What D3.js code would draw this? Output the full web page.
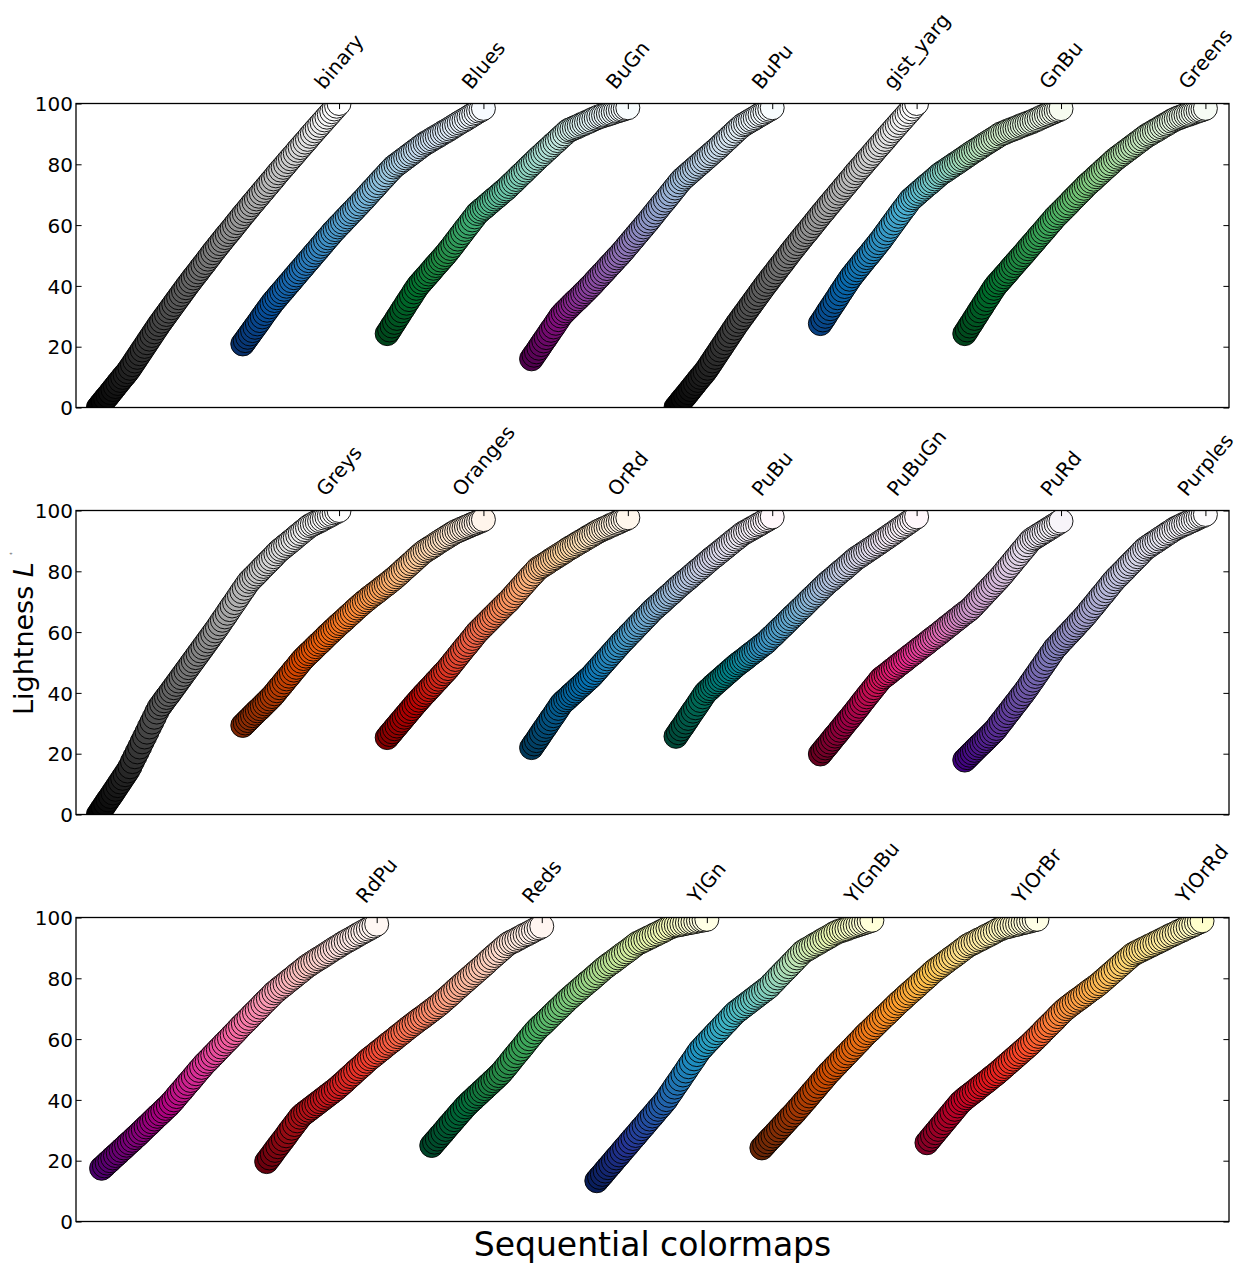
<!DOCTYPE html>
<html><head><meta charset="utf-8">
<script src="https://cdn.jsdelivr.net/npm/d3@7"></script>
<style>body{margin:0;background:#fff} text{font-family:"DejaVu Sans",sans-serif;fill:#000}</style>
</head><body><svg id="c" width="1238" height="1266"></svg>
<script>
// ---- data ----
const row1 = ["binary","Blues","BuGn","BuPu","gist_yarg","GnBu","Greens"];
const row2 = ["Greys","Oranges","OrRd","PuBu","PuBuGn","PuRd","Purples"];
const row3 = ["RdPu","Reds","YlGn","YlGnBu","YlOrBr","YlOrRd"];
const yTicks = [0,20,40,60,80,100];
const xLabel = "Sequential colormaps";

// colormap anchor colours (low -> high, matplotlib order)
const C_binary = ["#ffffff","#000000"];
const C_gist_yarg = ["#ffffff","#000000"];
const C_Blues = ["#f7fbff","#deebf7","#c6dbef","#9ecae1","#6baed6","#4292c6","#2171b5","#08519c","#08306b"];
const C_BuGn = ["#f7fcfd","#e5f5f9","#ccece6","#99d8c9","#66c2a4","#41ae76","#238b45","#006d2c","#00441b"];
const C_BuPu = ["#f7fcfd","#e0ecf4","#bfd3e6","#9ebcda","#8c96c6","#8c6bb1","#88419d","#810f7c","#4d004b"];
const C_GnBu = ["#f7fcf0","#e0f3db","#ccebc5","#a8ddb5","#7bccc4","#4eb3d3","#2b8cbe","#0868ac","#084081"];
const C_Greens = ["#f7fcf5","#e5f5e0","#c7e9c0","#a1d99b","#74c476","#41ab5d","#238b45","#006d2c","#00441b"];
const C_Greys = ["#ffffff","#f0f0f0","#d9d9d9","#bdbdbd","#969696","#737373","#525252","#252525","#000000"];
const C_Oranges = ["#fff5eb","#fee6ce","#fdd0a2","#fdae6b","#fd8d3c","#f16913","#d94801","#a63603","#7f2704"];
const C_OrRd = ["#fff7ec","#fee8c8","#fdd49e","#fdbb84","#fc8d59","#ef6548","#d7301f","#b30000","#7f0000"];
const C_PuBu = ["#fff7fb","#ece7f2","#d0d1e6","#a6bddb","#74a9cf","#3690c0","#0570b0","#045a8d","#023858"];
const C_PuBuGn = ["#fff7fb","#ece2f0","#d0d1e6","#a6bddb","#67a9cf","#3690c0","#02818a","#016c59","#014636"];
const C_PuRd = ["#f7f4f9","#e7e1ef","#d4b9da","#c994c7","#df65b0","#e7298a","#ce1256","#980043","#67001f"];
const C_Purples = ["#fcfbfd","#efedf5","#dadaeb","#bcbddc","#9e9ac8","#807dba","#6a51a3","#54278f","#3f007d"];
const C_RdPu = ["#fff7f3","#fde0dd","#fcc5c0","#fa9fb5","#f768a1","#dd3497","#ae017e","#7a0177","#49006a"];
const C_Reds = ["#fff5f0","#fee0d2","#fcbba1","#fc9272","#fb6a4a","#ef3b2c","#cb181d","#a50f15","#67000d"];
const C_YlGn = ["#ffffe5","#f7fcb9","#d9f0a3","#addd8e","#78c679","#41ab5d","#238443","#006837","#004529"];
const C_YlGnBu = ["#ffffd9","#edf8b1","#c7e9b4","#7fcdbb","#41b6c4","#1d91c0","#225ea8","#253494","#081d58"];
const C_YlOrBr = ["#ffffe5","#fff7bc","#fee391","#fec44f","#fe9929","#ec7014","#cc4c02","#993404","#662506"];
const C_YlOrRd = ["#ffffcc","#ffeda0","#fed976","#feb24c","#fd8d3c","#fc4e2a","#e31a1c","#bd0026","#800026"];

// lightness L* of the 100 plotted points (dark end first)
const L_binary = [0,1.0,2.0,3.0,3.9,4.9,5.9,6.9,7.9,8.9,9.9,10.8,11.8,
12.9,14.1,15.3,16.5,17.7,18.9,20.1,21.3,22.5,23.7,24.9,26.1,
27.3,28.4,29.5,30.6,31.7,32.8,33.9,35.0,36.1,37.2,38.3,39.4,40.5,
41.5,42.6,43.6,44.6,45.7,46.7,47.7,48.8,49.8,50.9,51.9,52.9,
53.9,54.9,55.9,56.9,57.8,58.8,59.8,60.8,61.8,62.8,63.8,64.7,
65.7,66.7,67.6,68.6,69.5,70.5,71.4,72.4,73.3,74.3,75.2,76.2,77.2,
78.1,79.0,79.9,80.9,81.8,82.7,83.6,84.6,85.5,86.4,87.3,88.2,
89.2,90.1,91.0,91.9,92.8,93.7,94.6,95.5,96.4,97.3,98.2,99.1,100];
const L_gist_yarg = [0,1.0,2.0,3.0,3.9,4.9,5.9,6.9,7.9,8.9,9.9,10.8,11.8,
12.9,14.1,15.3,16.5,17.7,18.9,20.1,21.3,22.5,23.7,24.9,26.1,
27.3,28.4,29.5,30.6,31.7,32.8,33.9,35.0,36.1,37.2,38.3,39.4,40.5,
41.5,42.6,43.6,44.6,45.7,46.7,47.7,48.8,49.8,50.9,51.9,52.9,
53.9,54.9,55.9,56.9,57.8,58.8,59.8,60.8,61.8,62.8,63.8,64.7,
65.7,66.7,67.6,68.6,69.5,70.5,71.4,72.4,73.3,74.3,75.2,76.2,77.2,
78.1,79.0,79.9,80.9,81.8,82.7,83.6,84.6,85.5,86.4,87.3,88.2,
89.2,90.1,91.0,91.9,92.8,93.7,94.6,95.5,96.4,97.3,98.2,99.1,100];
const L_Blues = [20.9,22.0,23.1,24.2,25.3,26.4,27.5,28.6,29.8,30.9,32.0,33.1,34.2,
35.2,36.1,37.1,38.0,38.9,39.9,40.8,41.7,42.7,43.6,44.6,45.5,
46.4,47.4,48.3,49.2,50.2,51.1,52.0,53.0,53.9,54.9,55.8,56.7,57.7,
58.5,59.4,60.2,61.0,61.9,62.7,63.6,64.4,65.2,66.1,66.9,67.8,
68.6,69.5,70.4,71.3,72.1,73.0,73.9,74.8,75.6,76.5,77.4,78.2,
79.1,79.7,80.3,80.9,81.5,82.1,82.7,83.3,83.9,84.5,85.1,85.7,86.3,
86.9,87.3,87.8,88.3,88.8,89.2,89.7,90.2,90.7,91.1,91.6,92.1,
92.6,93.1,93.6,94.1,94.5,95.0,95.5,96.0,96.5,97.0,97.5,97.9,98.4];
const L_BuGn = [24.3,25.5,26.8,28.0,29.3,30.5,31.8,33.0,34.3,35.5,36.7,38.0,39.2,
40.3,41.2,42.1,43.0,43.9,44.8,45.8,46.7,47.6,48.5,49.4,50.3,
51.3,52.3,53.3,54.4,55.4,56.5,57.5,58.6,59.6,60.6,61.7,62.7,63.8,
64.5,65.2,65.8,66.5,67.2,67.9,68.6,69.2,69.9,70.6,71.3,71.9,
72.7,73.5,74.2,75.0,75.8,76.6,77.3,78.1,78.9,79.7,80.4,81.2,
82.0,82.7,83.4,84.2,84.9,85.6,86.4,87.1,87.8,88.6,89.3,90.0,90.8,
91.3,91.6,92.0,92.3,92.7,93.1,93.4,93.8,94.1,94.5,94.9,95.2,
95.6,95.8,96.1,96.3,96.6,96.8,97.1,97.4,97.6,97.9,98.1,98.4,98.6];
const L_BuPu = [16.0,17.2,18.3,19.5,20.7,21.9,23.0,24.2,25.4,26.5,27.7,28.9,30.1,
31.0,31.8,32.6,33.4,34.2,35.0,35.7,36.5,37.3,38.1,38.9,39.7,
40.5,41.4,42.3,43.1,44.0,44.8,45.7,46.6,47.4,48.3,49.2,50.0,50.9,
51.8,52.8,53.7,54.7,55.6,56.6,57.5,58.5,59.4,60.4,61.3,62.3,
63.3,64.3,65.3,66.3,67.3,68.2,69.2,70.2,71.2,72.2,73.2,74.2,
75.1,75.8,76.5,77.2,77.9,78.6,79.3,80.0,80.7,81.4,82.1,82.8,83.5,
84.2,84.9,85.6,86.4,87.1,87.9,88.6,89.4,90.1,90.9,91.6,92.3,
93.0,93.4,93.9,94.4,94.8,95.3,95.8,96.3,96.7,97.2,97.7,98.1,98.6];
const L_GnBu = [27.6,28.8,30.0,31.3,32.5,33.7,34.9,36.1,37.4,38.6,39.8,41.0,42.2,
43.3,44.3,45.3,46.3,47.3,48.3,49.3,50.2,51.2,52.2,53.2,54.2,
55.2,56.3,57.4,58.5,59.6,60.7,61.8,62.9,64.0,65.1,66.1,67.2,68.3,
69.0,69.7,70.4,71.1,71.8,72.5,73.2,73.8,74.5,75.2,75.9,76.6,
77.2,77.7,78.2,78.8,79.3,79.9,80.4,80.9,81.5,82.0,82.6,83.1,
83.7,84.2,84.7,85.2,85.7,86.3,86.8,87.3,87.8,88.3,88.8,89.3,89.9,
90.2,90.5,90.9,91.2,91.5,91.8,92.1,92.5,92.8,93.1,93.4,93.7,
94.0,94.4,94.7,95.1,95.5,95.8,96.2,96.5,96.9,97.2,97.6,97.9,98.3];
const L_Greens = [24.3,25.5,26.8,28.0,29.3,30.5,31.8,33.0,34.3,35.5,36.7,38.0,39.2,
40.3,41.2,42.1,43.0,43.9,44.8,45.8,46.7,47.6,48.5,49.4,50.3,
51.2,52.2,53.1,54.0,54.9,55.9,56.8,57.7,58.6,59.6,60.5,61.4,62.4,
63.2,64.0,64.8,65.6,66.4,67.2,68.1,68.9,69.7,70.5,71.3,72.1,
73.0,73.7,74.4,75.1,75.9,76.6,77.3,78.1,78.8,79.5,80.2,81.0,
81.7,82.3,82.9,83.5,84.1,84.7,85.3,85.9,86.5,87.1,87.7,88.3,88.9,
89.5,89.9,90.4,90.9,91.3,91.8,92.3,92.8,93.2,93.7,94.2,94.6,
95.0,95.3,95.6,95.9,96.2,96.4,96.7,97.0,97.3,97.6,97.8,98.1,98.4];
const L_Greys = [0,1.2,2.4,3.6,4.8,5.9,7.1,8.3,9.5,10.7,11.9,13.1,14.3,
15.7,17.4,19.0,20.6,22.2,23.9,25.5,27.1,28.8,30.4,32.0,33.7,
35.2,36.3,37.4,38.5,39.5,40.6,41.7,42.8,43.9,45.0,46.1,47.2,48.3,
49.4,50.5,51.6,52.7,53.8,54.9,56.0,57.1,58.2,59.3,60.4,61.5,
62.7,63.9,65.0,66.2,67.4,68.6,69.7,70.9,72.1,73.3,74.4,75.6,
76.7,77.5,78.3,79.1,79.9,80.8,81.6,82.4,83.2,84.0,84.8,85.7,86.5,
87.2,87.8,88.5,89.1,89.8,90.4,91.1,91.8,92.4,93.1,93.7,94.4,
95.0,95.4,95.8,96.2,96.6,97.0,97.5,97.9,98.3,98.7,99.2,99.6,100];
const L_Oranges = [29.3,30.1,30.9,31.7,32.5,33.3,34.1,34.8,35.6,36.4,37.2,38.0,38.8,
39.7,40.7,41.7,42.6,43.6,44.6,45.5,46.5,47.5,48.4,49.4,50.4,
51.3,52.1,52.9,53.6,54.4,55.2,56.0,56.7,57.5,58.3,59.1,59.8,60.6,
61.3,62.1,62.8,63.5,64.2,65.0,65.7,66.4,67.2,67.9,68.6,69.3,
70.0,70.6,71.3,71.9,72.5,73.1,73.7,74.4,75.0,75.6,76.2,76.9,
77.5,78.2,78.9,79.6,80.4,81.1,81.8,82.5,83.2,84.0,84.7,85.4,86.1,
86.7,87.2,87.7,88.2,88.7,89.3,89.8,90.3,90.8,91.3,91.8,92.3,
92.8,93.2,93.5,93.9,94.2,94.6,94.9,95.3,95.6,95.9,96.3,96.6,97.0];
const L_OrRd = [25.3,26.3,27.2,28.2,29.1,30.1,31.0,32.0,32.9,33.9,34.8,35.8,36.7,
37.6,38.5,39.4,40.2,41.1,41.9,42.8,43.7,44.5,45.4,46.3,47.1,
48.0,49.0,50.0,51.0,52.0,53.0,54.0,55.0,55.9,56.9,57.9,58.9,59.9,
60.7,61.5,62.3,63.1,63.9,64.7,65.5,66.3,67.1,67.9,68.7,69.5,
70.2,71.1,72.0,72.9,73.8,74.7,75.6,76.5,77.4,78.3,79.1,80.0,
80.9,81.4,81.9,82.4,82.9,83.5,84.0,84.5,85.0,85.5,86.0,86.5,87.1,
87.6,88.0,88.5,89.0,89.5,89.9,90.4,90.9,91.4,91.8,92.3,92.8,
93.2,93.6,94.0,94.3,94.7,95.1,95.4,95.8,96.1,96.5,96.9,97.2,97.6];
const L_PuBu = [22.0,23.2,24.3,25.5,26.7,27.9,29.0,30.2,31.4,32.5,33.7,34.9,36.1,
37.0,37.7,38.4,39.2,39.9,40.6,41.4,42.1,42.8,43.6,44.3,45.0,
45.8,46.7,47.6,48.5,49.4,50.3,51.2,52.1,53.0,53.9,54.8,55.7,56.6,
57.4,58.2,59.1,59.9,60.7,61.6,62.4,63.2,64.1,64.9,65.7,66.6,
67.4,68.1,68.8,69.5,70.2,71.0,71.7,72.4,73.1,73.9,74.6,75.3,
76.0,76.7,77.3,78.0,78.7,79.4,80.1,80.7,81.4,82.1,82.8,83.5,84.2,
84.8,85.4,86.1,86.7,87.4,88.0,88.7,89.3,90.0,90.6,91.2,91.9,
92.5,92.9,93.4,93.8,94.3,94.7,95.2,95.6,96.1,96.6,97.0,97.5,97.9];
const L_PuBuGn = [25.7,26.9,28.1,29.2,30.4,31.6,32.8,34.0,35.1,36.3,37.5,38.7,39.9,
40.7,41.4,42.2,42.9,43.6,44.3,45.0,45.7,46.4,47.1,47.8,48.5,
49.2,49.8,50.4,51.0,51.6,52.3,52.9,53.5,54.1,54.8,55.4,56.0,56.6,
57.4,58.2,58.9,59.7,60.5,61.3,62.0,62.8,63.6,64.4,65.2,65.9,
66.7,67.5,68.2,69.0,69.8,70.6,71.4,72.1,72.9,73.7,74.5,75.2,
76.0,76.7,77.3,78.0,78.7,79.4,80.1,80.7,81.4,82.1,82.8,83.5,84.2,
84.7,85.2,85.8,86.3,86.9,87.4,87.9,88.5,89.0,89.6,90.1,90.7,
91.2,91.8,92.3,92.9,93.5,94.0,94.6,95.1,95.7,96.2,96.8,97.4,97.9];
const L_PuRd = [19.9,20.9,21.9,22.8,23.8,24.8,25.8,26.7,27.7,28.7,29.7,30.7,31.6,
32.6,33.6,34.6,35.6,36.7,37.7,38.7,39.7,40.7,41.7,42.7,43.7,
44.7,45.3,45.9,46.5,47.2,47.8,48.4,49.1,49.7,50.3,50.9,51.6,52.2,
52.8,53.4,54.1,54.7,55.3,55.9,56.5,57.2,57.8,58.4,59.0,59.6,
60.3,60.9,61.6,62.2,62.8,63.5,64.1,64.7,65.4,66.0,66.6,67.2,
67.9,68.7,69.6,70.4,71.3,72.1,73.0,73.8,74.7,75.5,76.4,77.2,78.1,
79.0,80.0,81.0,81.9,82.9,83.9,84.8,85.8,86.8,87.7,88.7,89.7,
90.5,91.0,91.5,92.0,92.5,93.0,93.5,94.0,94.5,95.0,95.5,96.0,96.5];
const L_Purples = [17.9,18.7,19.5,20.3,21.1,21.9,22.7,23.4,24.2,25.0,25.8,26.6,27.4,
28.3,29.4,30.4,31.4,32.5,33.5,34.5,35.6,36.6,37.6,38.7,39.7,
40.8,41.9,43.1,44.2,45.4,46.5,47.7,48.8,50.0,51.1,52.3,53.4,54.6,
55.4,56.3,57.2,58.0,58.9,59.7,60.6,61.4,62.3,63.2,64.0,64.9,
65.8,66.8,67.8,68.7,69.7,70.7,71.7,72.6,73.6,74.6,75.6,76.6,
77.5,78.3,79.1,79.9,80.7,81.6,82.4,83.2,84.0,84.8,85.6,86.5,87.3,
87.9,88.4,89.0,89.5,90.0,90.6,91.1,91.6,92.2,92.7,93.2,93.8,
94.2,94.6,95.0,95.4,95.7,96.1,96.5,96.8,97.2,97.6,98.0,98.3,98.7];
const L_RdPu = [17.5,18.3,19.2,20.0,20.9,21.7,22.5,23.4,24.2,25.1,25.9,26.7,27.6,
28.4,29.3,30.2,31.1,31.9,32.8,33.7,34.6,35.4,36.3,37.2,38.0,
39.0,40.0,41.1,42.2,43.2,44.3,45.4,46.4,47.5,48.6,49.7,50.7,51.8,
52.7,53.6,54.6,55.5,56.5,57.4,58.4,59.3,60.2,61.2,62.1,63.1,
64.1,65.0,65.9,66.8,67.8,68.7,69.6,70.5,71.5,72.4,73.3,74.2,
75.2,75.9,76.7,77.4,78.1,78.9,79.6,80.3,81.1,81.8,82.5,83.3,84.0,
84.6,85.2,85.8,86.4,86.9,87.5,88.1,88.7,89.3,89.9,90.4,91.0,
91.6,92.1,92.6,93.1,93.6,94.2,94.7,95.2,95.7,96.2,96.7,97.2,97.8];
const L_Reds = [19.7,20.9,22.1,23.4,24.6,25.8,27.0,28.2,29.5,30.7,31.9,33.1,34.3,
35.2,35.9,36.6,37.3,38.0,38.7,39.4,40.1,40.8,41.5,42.2,42.9,
43.6,44.4,45.2,46.0,46.9,47.7,48.5,49.4,50.2,51.0,51.8,52.7,53.5,
54.2,54.9,55.7,56.4,57.1,57.9,58.6,59.3,60.0,60.8,61.5,62.2,
63.0,63.7,64.4,65.1,65.8,66.5,67.1,67.8,68.5,69.2,69.9,70.6,
71.3,72.1,72.9,73.7,74.5,75.3,76.2,77.0,77.8,78.6,79.4,80.2,81.0,
81.8,82.6,83.4,84.2,85.0,85.9,86.7,87.5,88.3,89.1,89.9,90.7,
91.4,91.9,92.3,92.8,93.3,93.8,94.3,94.7,95.2,95.7,96.2,96.6,97.1];
const L_YlGn = [25.0,26.1,27.1,28.2,29.2,30.3,31.4,32.4,33.5,34.5,35.6,36.6,37.7,
38.6,39.5,40.3,41.2,42.0,42.9,43.7,44.6,45.4,46.3,47.1,48.0,
48.9,50.0,51.1,52.2,53.4,54.5,55.6,56.7,57.8,59.0,60.1,61.2,62.3,
63.3,64.2,65.0,65.9,66.8,67.7,68.6,69.5,70.3,71.2,72.1,73.0,
73.8,74.6,75.4,76.2,77.0,77.8,78.6,79.3,80.1,80.9,81.7,82.5,
83.3,84.0,84.7,85.3,86.0,86.7,87.4,88.1,88.7,89.4,90.1,90.8,91.5,
91.9,92.4,92.8,93.3,93.7,94.2,94.6,95.1,95.5,96.0,96.5,96.9,
97.3,97.5,97.6,97.8,98.0,98.2,98.4,98.5,98.7,98.9,99.1,99.2,99.4];
const L_YlGnBu = [13.4,14.5,15.5,16.6,17.7,18.7,19.8,20.9,21.9,23.0,24.1,25.1,26.2,
27.3,28.3,29.4,30.5,31.5,32.6,33.7,34.7,35.8,36.9,37.9,39.0,
40.1,41.5,42.8,44.2,45.5,46.8,48.2,49.5,50.9,52.2,53.5,54.9,56.2,
57.2,58.2,59.2,60.1,61.1,62.1,63.0,64.0,65.0,65.9,66.9,67.9,
68.8,69.5,70.2,70.9,71.6,72.3,73.0,73.7,74.4,75.1,75.8,76.5,
77.2,78.2,79.1,80.1,81.0,82.0,82.9,83.8,84.8,85.7,86.7,87.6,88.6,
89.2,89.7,90.2,90.8,91.3,91.8,92.4,92.9,93.4,93.9,94.5,95.0,
95.4,95.7,96.0,96.3,96.7,97.0,97.3,97.6,97.9,98.2,98.5,98.8,99.1];
const L_YlOrBr = [24.2,25.2,26.2,27.2,28.1,29.1,30.1,31.1,32.1,33.1,34.1,35.0,36.0,
37.1,38.1,39.2,40.2,41.3,42.4,43.4,44.5,45.6,46.6,47.7,48.8,
49.7,50.7,51.6,52.6,53.5,54.5,55.4,56.4,57.3,58.3,59.2,60.2,61.2,
62.1,62.9,63.8,64.7,65.6,66.5,67.4,68.2,69.1,70.0,70.9,71.8,
72.6,73.4,74.3,75.1,75.9,76.7,77.5,78.4,79.2,80.0,80.8,81.7,
82.5,83.2,83.8,84.5,85.2,85.9,86.6,87.2,87.9,88.6,89.3,90.0,90.7,
91.2,91.6,92.1,92.6,93.0,93.5,94.0,94.4,94.9,95.4,95.9,96.3,
96.7,96.9,97.1,97.4,97.6,97.8,98.1,98.3,98.5,98.7,99.0,99.2,99.4];
const L_YlOrRd = [25.9,27.0,28.1,29.2,30.3,31.4,32.5,33.6,34.7,35.8,36.9,38.0,39.1,
39.9,40.7,41.4,42.1,42.8,43.5,44.3,45.0,45.7,46.4,47.2,47.9,
48.6,49.4,50.2,51.0,51.8,52.6,53.4,54.2,55.0,55.8,56.6,57.4,58.2,
59.1,60.0,60.9,61.8,62.8,63.7,64.6,65.5,66.4,67.4,68.3,69.2,
70.0,70.7,71.4,72.1,72.8,73.4,74.1,74.8,75.5,76.2,76.8,77.5,
78.2,79.0,79.8,80.6,81.4,82.2,83.0,83.8,84.6,85.4,86.2,87.0,87.8,
88.3,88.8,89.2,89.7,90.1,90.6,91.0,91.5,91.9,92.4,92.8,93.3,
93.8,94.2,94.6,95.1,95.5,95.9,96.4,96.8,97.2,97.6,98.1,98.5,98.9];

// lookup tables built from the arrays above
const lightness = {binary:L_binary, Blues:L_Blues, BuGn:L_BuGn, BuPu:L_BuPu, gist_yarg:L_gist_yarg, GnBu:L_GnBu, Greens:L_Greens,
  Greys:L_Greys, Oranges:L_Oranges, OrRd:L_OrRd, PuBu:L_PuBu, PuBuGn:L_PuBuGn, PuRd:L_PuRd, Purples:L_Purples,
  RdPu:L_RdPu, Reds:L_Reds, YlGn:L_YlGn, YlGnBu:L_YlGnBu, YlOrBr:L_YlOrBr, YlOrRd:L_YlOrRd};
const colours = {binary:C_binary, Blues:C_Blues, BuGn:C_BuGn, BuPu:C_BuPu, gist_yarg:C_gist_yarg, GnBu:C_GnBu, Greens:C_Greens,
  Greys:C_Greys, Oranges:C_Oranges, OrRd:C_OrRd, PuBu:C_PuBu, PuBuGn:C_PuBuGn, PuRd:C_PuRd, Purples:C_Purples,
  RdPu:C_RdPu, Reds:C_Reds, YlGn:C_YlGn, YlGnBu:C_YlGnBu, YlOrBr:C_YlOrBr, YlOrRd:C_YlOrRd};
const rows = [row1,row2,row3];

// ---- layout ----
const svg = d3.select("#c");
svg.append("rect").attr("width",1238).attr("height",1266).attr("fill","#fff");
const left = 76, right = 1229, ph = 304, tops = [103.5,510.5,917.5];
const dc = 0.6, tickLen = 5.6, fs = 20;

rows.forEach((names, r) => {
  const top = tops[r];
  const last = (names.length - 1) * dc + 1;
  const x = d3.scaleLinear().domain([-0.093, last + 0.098]).range([left, right]);
  const y = d3.scaleLinear().domain([0, 100]).range([top + ph, top]);

  svg.append("clipPath").attr("id", "clip" + r).append("rect")
    .attr("x", left).attr("y", top).attr("width", right - left).attr("height", ph);
  const pts = svg.append("g").attr("clip-path", `url(#clip${r})`);

  names.forEach((name, j) => {
    const Ls = lightness[name];
    const cols = colours[name];
    const n = Ls.length;
    const cscale = d3.scaleLinear()
      .domain(cols.map((c, k) => k / (cols.length - 1)))
      .range(cols).interpolate(d3.interpolateRgb).clamp(true);
    pts.append("g").selectAll("circle").data(Ls).enter().append("circle")
      .attr("cx", (d, i) => x(i / (n - 1) + j * dc))
      .attr("cy", d => y(d))
      .attr("r", 12)
      .attr("fill", (d, i) => cscale(1 - i / (n - 1)))
      .attr("stroke", "#000").attr("stroke-width", 0.9);
  });

  const locs = names.map((nm, j) => 1 + j * dc);

  // left axis (inward ticks)
  const ga = svg.append("g").attr("transform", `translate(${left},0)`)
    .call(d3.axisLeft(y).tickValues(yTicks).tickSize(-tickLen).tickPadding(3).tickFormat(d3.format("d")));
  ga.select(".domain").remove();
  ga.selectAll("line").attr("stroke", "#000").attr("stroke-width", 1);
  ga.selectAll("text").attr("font-size", fs).attr("font-family", "DejaVu Sans").attr("fill", "#000")
    .attr("dy", null).attr("y", fs * 0.364);

  // right axis
  const gr = svg.append("g").attr("transform", `translate(${right},0)`)
    .call(d3.axisRight(y).tickValues(yTicks).tickSize(-tickLen).tickFormat(""));
  gr.select(".domain").remove();
  gr.selectAll("line").attr("stroke", "#000").attr("stroke-width", 1);

  // top axis
  const gt = svg.append("g").attr("transform", `translate(0,${top})`)
    .call(d3.axisTop(x).tickValues(locs).tickSize(-tickLen).tickFormat(""));
  gt.select(".domain").remove();
  gt.selectAll("line").attr("stroke", "#000").attr("stroke-width", 1);

  // rotated tick labels
  const a = 50 * Math.PI / 180;
  names.forEach((name, j) => {
    const tx = x(locs[j]);
    const t = svg.append("text").attr("font-size", fs).attr("text-anchor", "middle").text(name);
    const w = t.node().getComputedTextLength();
    const h = fs * 1.164;
    const Hb = w * Math.sin(a) + h * Math.cos(a);
    const cy = top - 10 - Hb / 2;
    t.attr("transform", `translate(${tx},${cy}) rotate(-50)`).attr("y", fs * 0.346);
  });

  // frame
  svg.append("rect").attr("x", left).attr("y", top).attr("width", right - left).attr("height", ph)
    .attr("fill", "none").attr("stroke", "#000").attr("stroke-width", 1.3);
});

// y label
const yl = svg.append("text").attr("transform", "translate(33,715) rotate(-90)").attr("font-size", 27);
yl.append("tspan").text("Lightness ");
yl.append("tspan").attr("font-style", "italic").text("L");
yl.append("tspan").attr("font-size", 6).attr("dx", 7).attr("dy", -19).attr("fill", "#666").text("*");

// x label
svg.append("text").attr("x", 652.5).attr("y", 1256).attr("text-anchor", "middle").attr("font-size", 33).text(xLabel);
</script>
</body></html>
